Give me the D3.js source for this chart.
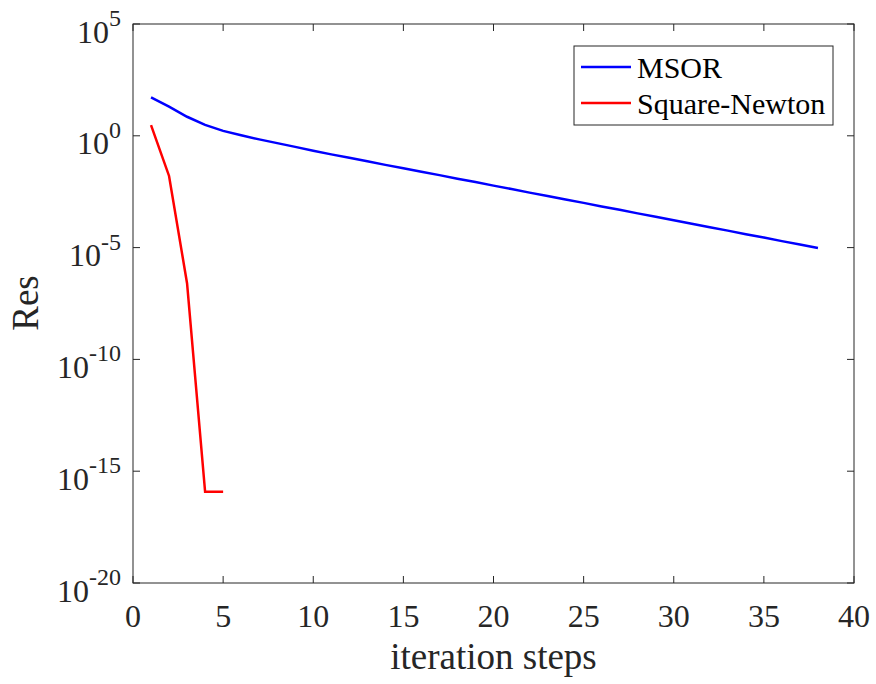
<!DOCTYPE html>
<html>
<head>
<meta charset="utf-8">
<script src="https://cdn.jsdelivr.net/npm/d3@7"></script>
<style>
  body { margin: 0; background: #fff; }
</style>
</head>
<body>
<script>
  var w = 876;
  var h = 684;

  // data
  var msorSteps = d3.range(1, 39);
  var msorRes = [
    52.5, 20, 7.1, 3.1, 1.66, 1.05, 0.69, 0.47, 0.32, 0.214,
    0.148, 0.104, 0.0724, 0.0501, 0.0355, 0.0245, 0.0174, 0.012, 0.0085, 0.0059,
    0.00417, 0.00288, 0.00204, 0.00141, 0.001, 6.9e-4, 4.9e-4, 3.4e-4, 2.4e-4, 1.66e-4,
    1.17e-4, 8.1e-5, 5.75e-5, 3.98e-5, 2.82e-5, 1.95e-5, 1.38e-5, 9.5e-6
  ];
  var newtonSteps = [1, 2, 3, 4, 5];
  var newtonRes = [3.0, 0.016, 2.5e-7, 1.2e-16, 1.2e-16];

  var series = [
    { name: 'MSOR', color: '#0000ff', x: msorSteps, y: msorRes },
    { name: 'Square-Newton', color: '#ff0000', x: newtonSteps, y: newtonRes }
  ];
  var xTicks = d3.range(0, 41, 5);
  var yTickExps = [5, 0, -5, -10, -15, -20];

  var m = { left: 133, right: 854, top: 24, bottom: 583 };
  var font = "'Liberation Serif'";

  var svg = d3.select('body').append('svg')
    .attr('width', w).attr('height', h);

  var xScale = d3.scaleLinear().domain([0, 40]).range([m.left, m.right]);
  var yScale = d3.scaleLog().domain([1e-20, 1e5]).range([m.bottom, m.top]);

  var axisColor = '#262626';
  var tickLen = 7;

  function label(sel) {
    return sel.style('font-family', font).style('fill', axisColor);
  }

  // frame
  svg.append('rect')
    .attr('x', m.left).attr('y', m.top)
    .attr('width', m.right - m.left).attr('height', m.bottom - m.top)
    .attr('fill', 'none').attr('stroke', axisColor).attr('stroke-width', 1);

  // x ticks (inward, bottom and top)
  var xt = svg.append('g');
  xTicks.forEach(function(t) {
    var x = xScale(t);
    xt.append('line').attr('x1', x).attr('x2', x).attr('y1', m.bottom).attr('y2', m.bottom - tickLen)
      .attr('stroke', axisColor);
    xt.append('line').attr('x1', x).attr('x2', x).attr('y1', m.top).attr('y2', m.top + tickLen)
      .attr('stroke', axisColor);
    xt.append('text').attr('x', x).attr('y', 627).attr('text-anchor', 'middle')
      .call(label).style('font-size', '32px').text(t);
  });

  // y ticks
  var yt = svg.append('g');
  yTickExps.forEach(function(e) {
    var y = yScale(Math.pow(10, e));
    yt.append('line').attr('x1', m.left).attr('x2', m.left + tickLen).attr('y1', y).attr('y2', y)
      .attr('stroke', axisColor);
    yt.append('line').attr('x1', m.right).attr('x2', m.right - tickLen).attr('y1', y).attr('y2', y)
      .attr('stroke', axisColor);
    var t = yt.append('text').attr('x', 121).attr('y', y + 18.5).attr('text-anchor', 'end')
      .call(label).style('font-size', '32px');
    t.append('tspan').text('10');
    t.append('tspan').attr('dy', -16.5).style('font-size', '24px')
      .text(e < 0 ? '-' + (-e) : e);
  });

  // lines
  var line = d3.line().x(function(d) { return xScale(d[0]); }).y(function(d) { return yScale(d[1]); });
  series.forEach(function(s) {
    svg.append('path')
      .datum(d3.zip(s.x, s.y))
      .attr('d', line)
      .attr('fill', 'none')
      .attr('stroke', s.color)
      .attr('stroke-width', 2.5);
  });

  // axis labels
  svg.append('text').attr('x', (m.left + m.right) / 2).attr('y', 669)
    .attr('text-anchor', 'middle').call(label).style('font-size', '37px').text('iteration steps');
  svg.append('text').attr('transform', 'translate(38,303) rotate(-90)')
    .attr('text-anchor', 'middle').call(label).style('font-size', '37px').text('Res');

  // legend
  var lg = svg.append('g');
  lg.append('rect').attr('x', 574).attr('y', 46).attr('width', 259).attr('height', 79)
    .attr('fill', '#fff').attr('stroke', axisColor).attr('stroke-width', 1);
  series.forEach(function(s, i) {
    var y = 67 + i * 36;
    lg.append('line').attr('x1', 581).attr('x2', 631).attr('y1', y).attr('y2', y)
      .attr('stroke', s.color).attr('stroke-width', 2.5);
    lg.append('text').attr('x', 637).attr('y', y + 11).style('font-size', '30px')
      .style('font-family', font).style('fill', '#000').text(s.name);
  });
</script>
</body>
</html>
